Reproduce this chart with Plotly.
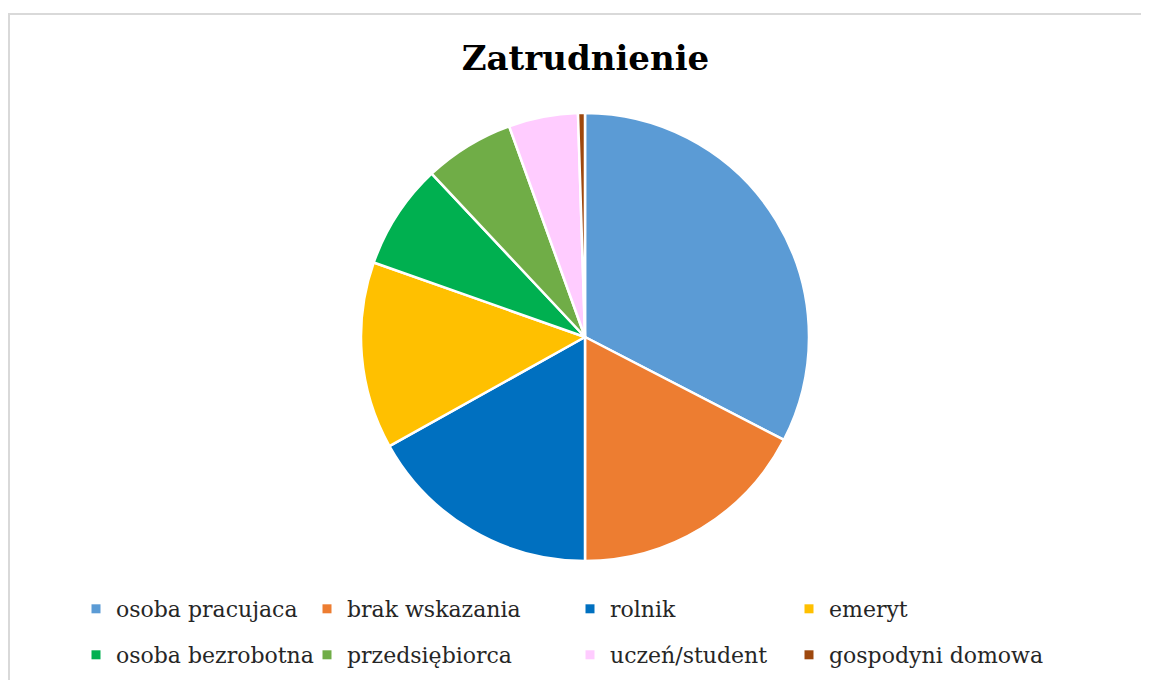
import plotly.graph_objects as go

categories = ["osoba pracujaca", "brak wskazania", "rolnik", "emeryt",
              "osoba bezrobotna", "przedsiębiorca", "uczeń/student", "gospodyni domowa"]
values = [32.6, 17.4, 16.9, 13.5, 7.6, 6.5, 5.0, 0.5]
colors = ["#5B9BD5", "#ED7D31", "#0070C0", "#FFC000",
          "#00B050", "#70AD47", "#FFCCFF", "#9E480E"]

# page has an 8px body margin, so the figure is drawn 8px in from the window edge
OFF = 8
W, H = 1149 - OFF, 680 - OFF
cx, cy, r = 585 - OFF, 337 - OFF, 224

# legend layout: 4 columns x 2 rows (window pixel positions of the markers)
col_x = [99, 330, 593, 812]
row_y = [609, 655]

fig = go.Figure()
fig.add_trace(go.Pie(
    labels=categories, values=values, sort=False, direction="clockwise", rotation=0,
    marker=dict(colors=colors, line=dict(color="white", width=2.5)),
    textinfo="none", hoverinfo="label+value", showlegend=False,
    domain=dict(x=[(cx - r) / W, (cx + r) / W], y=[1 - (cy + r) / H, 1 - (cy - r) / H]),
))

legends = {}
for i, (name, col) in enumerate(zip(categories, colors)):
    key = "legend" if i == 0 else f"legend{i + 1}"
    fig.add_trace(go.Scatter(
        x=[None], y=[None], mode="markers", name=name,
        marker=dict(symbol="square", size=9, color=col),
        legend=key, hoverinfo="skip",
    ))
    mx = col_x[i % 4] - 3
    my = row_y[i // 4]
    legends[key] = dict(
        orientation="h", xanchor="left", yanchor="middle",
        x=(mx - 20 - OFF) / W, y=1 - (my - OFF) / H,
        font=dict(family="DejaVu Serif", size=22, color="#262626"),
        bgcolor="rgba(0,0,0,0)",
    )

fig.update_layout(
    width=W, height=H, autosize=False,
    margin=dict(l=0, r=0, t=0, b=0),
    paper_bgcolor="white", plot_bgcolor="white",
    xaxis=dict(visible=False), yaxis=dict(visible=False),
    title=dict(text="<b>Zatrudnienie</b>", x=(cx + 0.5) / W, xanchor="center",
               y=1 - (58 - OFF) / H, yanchor="middle",
               font=dict(family="DejaVu Serif", size=34, color="black")),
    shapes=[dict(type="rect", xref="paper", yref="paper",
                 x0=1 / W, x1=1.02, y0=-0.02, y1=1 - (14 - OFF) / H,
                 line=dict(color="#D9D9D9", width=2), fillcolor="rgba(0,0,0,0)", layer="below")],
    **legends,
)

fig.write_html("out.html")
